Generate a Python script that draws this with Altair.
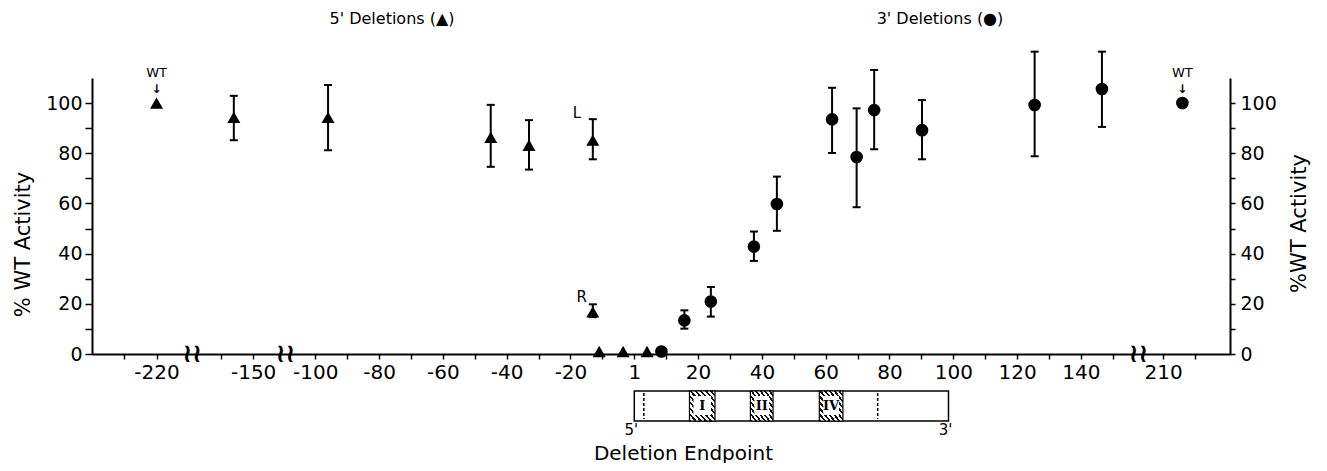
import json
import altair as alt
import pandas as pd

# ---------------- data ----------------
# 5' deletions (triangles)
tri_pos = [-220, -156, -96, -45, -33, -13, -13, -11, -3.5, 4]
tri_act = [100, 94.3, 94.3, 86.3, 83.2, 85.2, 16.8, 1, 1, 1]
tri_lo = [None, 85.2, 81.2, 74.6, 73.5, 77.6, 14.7, None, None, None]
tri_hi = [None, 102.9, 107.2, 99.3, 93.2, 93.6, 19.8, None, None, None]
tri_tag = ["WT", "", "", "", "", "L", "R", "", "", ""]

# 3' deletions (circles)
circ_pos = [8.5, 15.7, 24, 37.5, 44.7, 62, 69.7, 75.2, 90.2, 125.5, 146.6, 216]
circ_act = [1, 13.4, 20.9, 42.8, 59.8, 93.5, 78.5, 97.2, 89.2, 99.2, 105.6, 100]
circ_lo = [None, 10.1, 14.9, 37.1, 49.1, 80.1, 58.5, 81.6, 77.6, 78.8, 90.5, None]
circ_hi = [None, 17.4, 26.7, 48.8, 70.7, 106.1, 97.9, 113.2, 101.2, 120.5, 120.5, None]
circ_tag = ["", "", "", "", "", "", "", "", "", "", "", "WT"]

# axis ticks / labels
tick_values = [-230, -220, -160, -150] + list(range(-100, 151, 10)) + [210, 220]
label_values = [-220, -150, -100, -80, -60, -40, -20, 0, 20, 40, 60, 80, 100, 120, 140, 210]
label_texts = ["-220", "-150", "-100", "-80", "-60", "-40", "-20", "1", "20", "40",
               "60", "80", "100", "120", "140", "210"]
y_ticks = [0, 10, 20, 30, 40, 50, 60, 70, 80, 90, 100]
break_pos = [-190, -125, 180]

# gene diagram below the axis
gene_start = [0]
gene_end = [98.5]
element_names = ["I", "II", "IV"]
element_start = [17.3, 36.4, 58.0]
element_end = [25.3, 43.5, 65.4]
dashed_pos = [3, 76.3]
end_labels = ["5'", "3'"]
end_label_pos = [0, 98.5]

FONT = "DejaVu Sans"

# ---------------- scales / axes ----------------
xscale = alt.Scale(
    type="linear",
    domain=[-240, -209, -169, -140, -109.4, 158, 202.2, 231],
    range=[0, 100, 100, 193.3, 193.3, 1046.3, 1046.3, 1138.3],
    nice=False, zero=False,
)
label_expr = (
    f"{json.dumps(label_texts)}[indexof({json.dumps(label_values)}, datum.value)] || ''"
)
xaxis = alt.Axis(
    values=tick_values, labelExpr=label_expr, grid=False,
    tickSize=5, tickWidth=1.5, domainWidth=2, labelFontSize=20, labelPadding=3,
    labelOverlap=False, labelFlush=False,
    title="Deletion Endpoint", titleFontSize=20, titleFontWeight="normal",
    titleX=591, titleY=105, titleAlign="center", titleBaseline="alphabetic",
)
yscale = alt.Scale(domain=[0, 110], nice=False, zero=False)
y_label_expr = "datum.value % 20 == 0 ? datum.label : ''"
left_axis = alt.Axis(
    values=y_ticks, labelExpr=y_label_expr, grid=False, orient="left",
    tickSize=7, tickWidth=1.5, domainWidth=2, labelFontSize=19, labelPadding=3,
    title="% WT Activity", titleFontSize=21, titleFontWeight="normal",
    titleAngle=270, titleX=-69, titleY=166, titleAlign="center", titleBaseline="middle",
)
right_axis = alt.Axis(
    values=y_ticks, labelExpr=y_label_expr, grid=False, orient="right",
    tickSize=5, tickWidth=1.5, domainWidth=2, labelFontSize=19, labelPadding=5,
    title="%WT Activity", titleFontSize=21, titleFontWeight="normal",
    titleAngle=270, titleX=69, titleY=145, titleAlign="center", titleBaseline="middle",
)


def X(field):
    return alt.X(f"{field}:Q", scale=xscale, axis=xaxis)


def Y(field, axis=None):
    return alt.Y(f"{field}:Q", scale=yscale, axis=axis)


tri_df = pd.DataFrame({"pos": tri_pos, "act": tri_act, "lo": tri_lo, "hi": tri_hi, "tag": tri_tag})
circ_df = pd.DataFrame({"pos": circ_pos, "act": circ_act, "lo": circ_lo, "hi": circ_hi, "tag": circ_tag})
gene_df = pd.DataFrame({"pos": gene_start, "pos_end": gene_end})
elem_df = pd.DataFrame({"pos": element_start, "pos_end": element_end, "name": element_names})
dash_df = pd.DataFrame({"pos": dashed_pos})
end_df = pd.DataFrame({"pos": end_label_pos, "txt": end_labels})
break_df = pd.DataFrame({"pos": break_pos})

layers = []

# gene diagram
layers.append(alt.Chart(gene_df).mark_rect(fill="white", stroke="black", strokeWidth=1.5).encode(
    x=X("pos"), x2="pos_end:Q", y=alt.value(313), y2=alt.value(343)))
layers.append(alt.Chart(dash_df).mark_rule(strokeDash=[3, 2], strokeWidth=1.5, color="black").encode(
    x=X("pos"), y=alt.value(315), y2=alt.value(341)))
stops = []
n = 10
for i in range(n):
    a, b, c = i / n, (i + 0.45) / n, (i + 1) / n
    stops += [alt.GradientStop(offset=a, color="#111"), alt.GradientStop(offset=b, color="#111"),
              alt.GradientStop(offset=b, color="white"), alt.GradientStop(offset=c, color="white")]
hatch = alt.LinearGradient(gradient="linear", stops=stops, x1=0, y1=1, x2=1, y2=0)
layers.append(alt.Chart(elem_df).mark_rect(fill=hatch, stroke="black", strokeWidth=1.2).encode(
    x=X("pos"), x2="pos_end:Q", y=alt.value(313), y2=alt.value(343)))
layers.append(alt.Chart(elem_df).mark_rect(fill="white", xOffset=4, x2Offset=-4).encode(
    x=X("pos"), x2="pos_end:Q", y=alt.value(318), y2=alt.value(337)))
layers.append(alt.Chart(elem_df).transform_calculate(mid="(datum.pos + datum.pos_end) / 2").mark_text(
    font="DejaVu Serif", fontWeight="bold", fontSize=13, fill="black", baseline="middle").encode(
    x=X("mid"), y=alt.value(328), text="name:N"))
layers.append(alt.Chart(end_df).mark_text(fontSize=15, fill="black", baseline="middle", dx=-3).encode(
    x=X("pos"), y=alt.value(352), text="txt:N"))

# error bars
for df in (tri_df, circ_df):
    base = alt.Chart(df).transform_filter("isValid(datum.lo)")
    layers.append(base.mark_rule(strokeWidth=2, color="black").encode(
        x=X("pos"), y=Y("lo"), y2="hi:Q"))
    layers.append(base.mark_tick(orient="horizontal", size=8, thickness=2, color="black", opacity=1).encode(
        x=X("pos"), y=Y("lo")))
    layers.append(base.mark_tick(orient="horizontal", size=8, thickness=2, color="black", opacity=1).encode(
        x=X("pos"), y=Y("hi")))

# points
layers.append(alt.Chart(tri_df).mark_point(shape="triangle-up", filled=True, size=170, color="black", opacity=1).encode(
    x=X("pos"), y=Y("act", left_axis)))
layers.append(alt.Chart(circ_df).mark_point(shape="circle", filled=True, size=160, color="black", opacity=1).encode(
    x=X("pos"), y=Y("act", right_axis)))

# annotations
for df in (tri_df, circ_df):
    wt = alt.Chart(df).transform_filter("datum.tag == 'WT'")
    layers.append(wt.mark_text(dy=-30, fontSize=13, fill="black", baseline="middle").encode(
        x=X("pos"), y=Y("act"), text="tag:N"))
    layers.append(wt.mark_text(dy=-14, fontSize=12, fontWeight="bold", fill="black", baseline="middle").encode(
        x=X("pos"), y=Y("act"), text=alt.value("↓")))
layers.append(alt.Chart(tri_df).transform_filter("datum.tag == 'L'").mark_text(
    dx=-16, dy=-27, fontSize=15, fill="black", baseline="middle").encode(
    x=X("pos"), y=Y("act"), text="tag:N"))
layers.append(alt.Chart(tri_df).transform_filter("datum.tag == 'R'").mark_text(
    dx=-11, dy=-15, fontSize=15, fill="black", baseline="middle").encode(
    x=X("pos"), y=Y("act"), text="tag:N"))

# axis breaks
layers.append(alt.Chart(break_df).mark_text(fontSize=26, fontWeight="bold", fill="black", baseline="middle").encode(
    x=X("pos"), y=alt.value(276), text=alt.value("≀≀")))

# headers
layers.append(alt.Chart(pd.DataFrame({"t": ["5' Deletions  (▲)"]})).mark_text(
    fontSize=16, fill="black", baseline="middle").encode(x=alt.value(300), y=alt.value(-59), text="t:N"))
layers.append(alt.Chart(pd.DataFrame({"t": ["3' Deletions  (●)"]})).mark_text(
    fontSize=16, fill="black", baseline="middle").encode(x=alt.value(848), y=alt.value(-59), text="t:N"))

chart = alt.layer(*layers).resolve_scale(y="independent").properties(
    width=1138, height=276,
    autosize=alt.AutoSizeParams(type="none"),
    padding={"left": 84, "top": 70, "right": 89, "bottom": 109},
).configure_view(stroke=None).configure_axis(
    labelFont=FONT, titleFont=FONT, domainColor="black", tickColor="black",
    labelColor="black", titleColor="black",
).configure_text(font=FONT)

chart.save("out.html", embed_options={"renderer": "svg", "actions": False})
